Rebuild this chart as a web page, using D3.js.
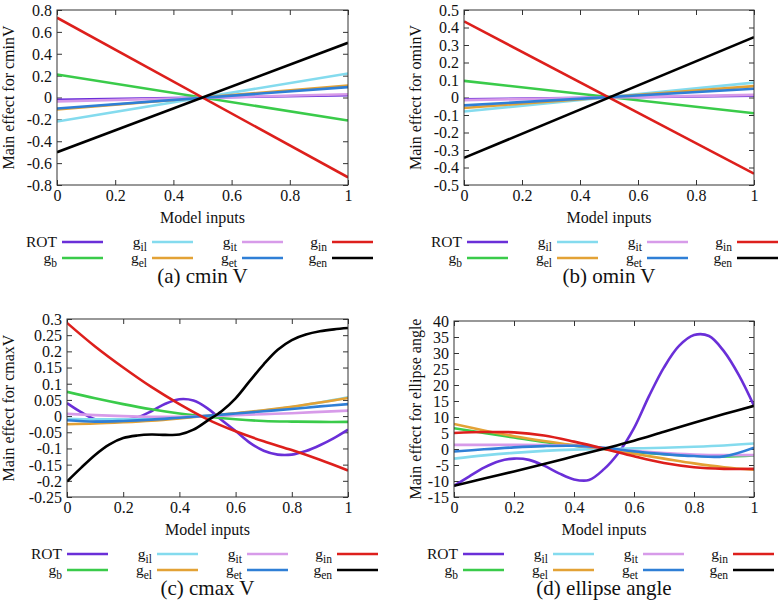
<!DOCTYPE html>
<html>
<head>
<meta charset="utf-8">
<script src="https://cdn.jsdelivr.net/npm/d3@7"></script>
<style>
  html, body { margin: 0; padding: 0; background: #fff; }
  svg { display: block; }
</style>
</head>
<body>
<svg id="chart" width="780" height="610"></svg>
<script>
// ---------- data ----------
const seriesMain = ["ROT", "g", "g", "g", "g", "g", "g", "g"];
const seriesSub  = ["", "b", "il", "el", "it", "et", "in", "en"];
const seriesColors = ["#6a2fd8", "#3acb4a", "#84dbee", "#e3a236", "#d79be9", "#2f7fd6", "#dd1f1c", "#000000"];

const xLinear = [0, 1];
const xGrid11 = [0, 0.1, 0.2, 0.3, 0.4, 0.5, 0.6, 0.7, 0.8, 0.9, 1];
const xGrid21 = [0, 0.05, 0.1, 0.15, 0.2, 0.25, 0.3, 0.35, 0.4, 0.45, 0.5, 0.55, 0.6, 0.65, 0.7, 0.75, 0.8, 0.85, 0.9, 0.95, 1];

// (a) cmin V  — order: ROT, g_b, g_il, g_el, g_it, g_et, g_in, g_en
const cminV = [
  [-0.02, 0.02],
  [0.21, -0.21],
  [-0.22, 0.22],
  [-0.11, 0.11],
  [-0.035, 0.03],
  [-0.10, 0.095],
  [0.73, -0.73],
  [-0.50, 0.50]
];
// (b) omin V
const ominV = [
  [-0.01, 0.01],
  [0.095, -0.09],
  [-0.08, 0.085],
  [-0.06, 0.065],
  [-0.015, 0.015],
  [-0.045, 0.05],
  [0.435, -0.435],
  [-0.345, 0.345]
];
// (c) cmax V
const cmaxV_ROT = [0.040, 0.012, -0.010, -0.015, -0.012, -0.004, 0.015, 0.038, 0.052, 0.048, 0.024, -0.012, -0.046, -0.082, -0.107, -0.119, -0.119, -0.108, -0.090, -0.068, -0.042];
const cmaxV_gb  = [0.075, 0.055, 0.037, 0.021, 0.008, -0.002, -0.010, -0.015, -0.017, -0.018, -0.018];
const cmaxV_gil = [-0.008, -0.010, -0.010, -0.008, -0.004, 0.001, 0.008, 0.017, 0.028, 0.042, 0.058];
const cmaxV_gel = [-0.025, -0.023, -0.019, -0.014, -0.007, 0.001, 0.009, 0.018, 0.029, 0.042, 0.056];
const cmaxV_git = [0.007, 0.003, 0.000, -0.002, -0.002, 0.000, 0.003, 0.006, 0.009, 0.013, 0.017];
const cmaxV_get = [-0.013, -0.017, -0.015, -0.011, -0.005, 0.001, 0.008, 0.015, 0.022, 0.030, 0.037];
const cmaxV_gin = [0.288, 0.215, 0.150, 0.090, 0.037, -0.010, -0.047, -0.078, -0.105, -0.135, -0.168];
const cmaxV_gen = [-0.202, -0.160, -0.120, -0.088, -0.068, -0.060, -0.057, -0.058, -0.057, -0.042, -0.014, 0.015, 0.055, 0.108, 0.160, 0.205, 0.235, 0.252, 0.262, 0.268, 0.272];
// (d) ellipse angle
const angle_ROT = [-11.5, -8.6, -5.8, -3.8, -3.0, -3.4, -5.2, -7.6, -9.5, -9.7, -6.3, -1.0, 6.5, 16.5, 25.5, 32.2, 35.6, 35.3, 30.5, 23.0, 13.5];
const angle_gb  = [6.5, 5.0, 3.6, 2.2, 1.0, 0.0, -0.9, -1.6, -2.1, -2.3, -2.0];
const angle_gil = [-3.0, -2.0, -1.2, -0.6, -0.2, 0.0, 0.2, 0.4, 0.7, 1.1, 1.7];
const angle_gel = [7.8, 5.8, 4.0, 2.5, 1.2, 0.0, -1.5, -3.0, -4.5, -5.7, -6.5];
const angle_git = [1.3, 1.3, 1.3, 1.2, 1.0, 0.3, -0.6, -1.3, -1.7, -1.9, -1.9];
const angle_get = [-0.8, -0.1, 0.5, 0.9, 1.0, 0.4, -0.7, -1.6, -2.2, -2.3, 0.4];
const angle_gin = [5.0, 5.3, 5.2, 4.2, 2.3, 0.1, -2.3, -4.4, -5.7, -6.2, -6.2];
const angle_gen = [-11.5, -9.2, -7.0, -4.7, -2.3, 0.1, 2.6, 5.4, 8.2, 10.9, 13.5];

const xTicks = [0, 0.2, 0.4, 0.6, 0.8, 1];
const yTicksA = [-0.8, -0.6, -0.4, -0.2, 0, 0.2, 0.4, 0.6, 0.8];
const yTicksB = [-0.5, -0.4, -0.3, -0.2, -0.1, 0, 0.1, 0.2, 0.3, 0.4, 0.5];
const yTicksC = [-0.25, -0.2, -0.15, -0.1, -0.05, 0, 0.05, 0.1, 0.15, 0.2, 0.25, 0.3];
const yTicksD = [-15, -10, -5, 0, 5, 10, 15, 20, 25, 30, 35, 40];

const yTitles = ["Main effect for cminV", "Main effect for ominV", "Main effect for cmaxV", "Main effect for ellipse angle"];
const captions = ["(a) cmin V", "(b) omin V", "(c) cmax V", "(d) ellipse angle"];
const xTitle = "Model inputs";

// ---------- layout ----------
const FONT = "Liberation Serif";
const panels = [
  { box: [57, 10, 348, 185],  yTicks: yTicksA, xs: Array(8).fill(xLinear), ys: cminV, titleX: 14, legendX: 62 },
  { box: [464, 10, 754, 185], yTicks: yTicksB, xs: Array(8).fill(xLinear), ys: ominV, titleX: 421, legendX: 467 },
  { box: [67, 319, 348, 497], yTicks: yTicksC,
    xs: [xGrid21, xGrid11, xGrid11, xGrid11, xGrid11, xGrid11, xGrid11, xGrid21],
    ys: [cmaxV_ROT, cmaxV_gb, cmaxV_gil, cmaxV_gel, cmaxV_git, cmaxV_get, cmaxV_gin, cmaxV_gen], titleX: 14, legendX: 67 },
  { box: [454, 321, 754, 497], yTicks: yTicksD,
    xs: [xGrid21, xGrid11, xGrid11, xGrid11, xGrid11, xGrid11, xGrid11, xGrid11],
    ys: [angle_ROT, angle_gb, angle_gil, angle_gel, angle_git, angle_get, angle_gin, angle_gen], titleX: 421, legendX: 463 }
];

const svg = d3.select("#chart").attr("font-family", FONT);
const fmt = d => String(+(+d).toFixed(2));
const TICK = 5;
const legendRows = [[0, 2, 4, 6], [1, 3, 5, 7]];

panels.forEach((p, pi) => {
  const [x0, y0, x1, y1] = p.box;
  const yDom = [d3.min(p.yTicks), d3.max(p.yTicks)];
  const xs = d3.scaleLinear().domain([0, 1]).range([x0, x1]);
  const ys = d3.scaleLinear().domain(yDom).range([y1, y0]);
  const g = svg.append("g");

  const clipId = "clip" + pi;
  svg.append("defs").append("clipPath").attr("id", clipId)
    .append("rect").attr("x", x0).attr("y", y0).attr("width", x1 - x0).attr("height", y1 - y0);

  const styleAxis = sel => {
    sel.attr("font-family", FONT).attr("font-size", 16);
    sel.select(".domain").remove();
    sel.selectAll("line").attr("stroke", "#333").attr("stroke-width", 1);
    sel.selectAll("text").attr("fill", "#111").attr("font-family", FONT);
  };
  g.append("g").attr("transform", `translate(0,${y1})`)
    .call(d3.axisBottom(xs).tickValues(xTicks).tickSize(-TICK).tickFormat(fmt))
    .call(styleAxis)
    .call(a => a.selectAll("text").attr("dy", null).attr("y", 16));
  g.append("g").attr("transform", `translate(0,${y0})`)
    .call(d3.axisTop(xs).tickValues(xTicks).tickSize(-TICK).tickFormat(""))
    .call(styleAxis);
  g.append("g").attr("transform", `translate(${x0},0)`)
    .call(d3.axisLeft(ys).tickValues(p.yTicks).tickSize(-TICK).tickPadding(5).tickFormat(fmt))
    .call(styleAxis)
    .call(a => a.selectAll("text").attr("dy", "0.34em"));
  g.append("g").attr("transform", `translate(${x1},0)`)
    .call(d3.axisRight(ys).tickValues(p.yTicks).tickSize(-TICK).tickFormat(""))
    .call(styleAxis);

  // lines
  const plot = g.append("g").attr("clip-path", `url(#${clipId})`);
  p.ys.forEach((vals, si) => {
    const pts = vals.map((v, k) => [p.xs[si][k], v]);
    const line = d3.line().x(d => xs(d[0])).y(d => ys(d[1]))
      .curve(pts.length > 2 ? d3.curveCatmullRom.alpha(0.5) : d3.curveLinear);
    plot.append("path").attr("d", line(pts))
      .attr("fill", "none").attr("stroke", seriesColors[si]).attr("stroke-width", 2.6)
      .attr("stroke-linejoin", "round");
  });

  // frame
  g.append("rect").attr("x", x0).attr("y", y0).attr("width", x1 - x0).attr("height", y1 - y0)
    .attr("fill", "none").attr("stroke", "#333").attr("stroke-width", 1);

  // y title
  const cy = (y0 + y1) / 2;
  g.append("text").attr("transform", `translate(${p.titleX},${cy}) rotate(-90)`)
    .attr("text-anchor", "middle").attr("font-family", FONT).attr("font-size", 16).attr("fill", "#111").text(yTitles[pi]);

  // x title
  const cx = (x0 + x1) / 2;
  g.append("text").attr("x", cx).attr("y", y1 + 38).attr("text-anchor", "middle")
    .attr("font-family", FONT).attr("font-size", 16).attr("fill", "#111").text(xTitle);

  // legend
  legendRows.forEach((row, r) => {
    const ly = y1 + 57 + r * 16;
    row.forEach((si, c) => {
      const lx = p.legendX + c * 90;
      g.append("line").attr("x1", lx).attr("x2", lx + 41).attr("y1", ly).attr("y2", ly)
        .attr("stroke", seriesColors[si]).attr("stroke-width", 2.6);
      const t = g.append("text").attr("x", lx - 5).attr("y", ly + 5).attr("text-anchor", "end")
        .attr("font-family", FONT).attr("font-size", 15.5).attr("fill", "#111");
      t.append("tspan").text(seriesMain[si]);
      if (seriesSub[si]) {
        t.append("tspan").attr("dy", 4).attr("font-size", 11.5).text(seriesSub[si]);
      }
    });
  });

  // caption
  g.append("text").attr("x", cx).attr("y", y1 + 98).attr("text-anchor", "middle")
    .attr("font-family", FONT).attr("font-size", 21).attr("fill", "#111").text(captions[pi]);
});
</script>
</body>
</html>
